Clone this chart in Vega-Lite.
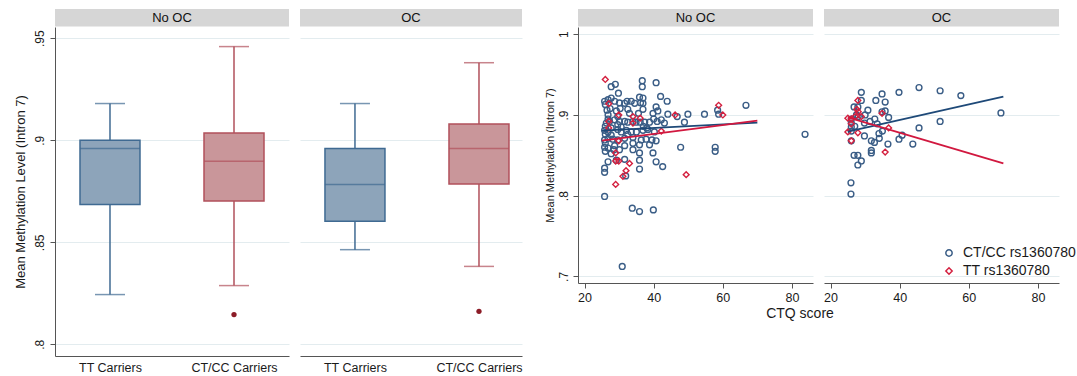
{
  "$schema": "https://vega.github.io/schema/vega-lite/v6.json",
  "background": "white",
  "padding": {"left": 14, "top": 9, "right": 2, "bottom": 0},
  "autosize": {"type": "pad"},
  "config": {
    "font": "Liberation Sans",
    "view": {"stroke": null},
    "axis": {"domainColor": "#555555", "tickColor": "#555555", "labelColor": "#1a1a1a", "titleColor": "#1a1a1a", "titleFontWeight": "normal", "gridColor": "#e3ecef", "labelFont": "Liberation Sans", "titleFont": "Liberation Sans"},
    "legend": {"labelFont": "Liberation Sans"}
  },
  "datasets": {
    "strips": [{"panel": "No OC"}, {"panel": "OC"}],
    "box": [
      {"panel": "No OC", "group": "TT Carriers", "lo": 0.8244, "q1": 0.8685, "med": 0.896, "q3": 0.9, "hi": 0.918},
      {"panel": "No OC", "group": "CT/CC Carriers", "lo": 0.8288, "q1": 0.8702, "med": 0.8897, "q3": 0.9036, "hi": 0.9459},
      {"panel": "OC", "group": "TT Carriers", "lo": 0.8464, "q1": 0.8603, "med": 0.8783, "q3": 0.896, "hi": 0.918},
      {"panel": "OC", "group": "CT/CC Carriers", "lo": 0.8382, "q1": 0.8786, "med": 0.896, "q3": 0.908, "hi": 0.938}
    ],
    "outl": [
      {"panel": "No OC", "group": "CT/CC Carriers", "value": 0.8146},
      {"panel": "OC", "group": "CT/CC Carriers", "value": 0.8162}
    ],
    "fit": [
      {"panel": "No OC", "geno": "CT/CC rs1360780", "ctq": 25, "meth": 0.8806},
      {"panel": "No OC", "geno": "CT/CC rs1360780", "ctq": 70, "meth": 0.8905},
      {"panel": "No OC", "geno": "TT rs1360780", "ctq": 25, "meth": 0.8682},
      {"panel": "No OC", "geno": "TT rs1360780", "ctq": 70, "meth": 0.893},
      {"panel": "OC", "geno": "CT/CC rs1360780", "ctq": 25, "meth": 0.8794},
      {"panel": "OC", "geno": "CT/CC rs1360780", "ctq": 70, "meth": 0.9227},
      {"panel": "OC", "geno": "TT rs1360780", "ctq": 25, "meth": 0.897},
      {"panel": "OC", "geno": "TT rs1360780", "ctq": 70, "meth": 0.84}
    ],
    "pts": [
      {"panel": "No OC", "geno": "CT/CC rs1360780", "ctq": 27.7, "meth": 0.935},
      {"panel": "No OC", "geno": "CT/CC rs1360780", "ctq": 28.9, "meth": 0.938},
      {"panel": "No OC", "geno": "CT/CC rs1360780", "ctq": 29.8, "meth": 0.927},
      {"panel": "No OC", "geno": "CT/CC rs1360780", "ctq": 36.7, "meth": 0.9425},
      {"panel": "No OC", "geno": "CT/CC rs1360780", "ctq": 36.7, "meth": 0.935},
      {"panel": "No OC", "geno": "CT/CC rs1360780", "ctq": 40.7, "meth": 0.94},
      {"panel": "No OC", "geno": "CT/CC rs1360780", "ctq": 42.0, "meth": 0.923},
      {"panel": "No OC", "geno": "CT/CC rs1360780", "ctq": 43.9, "meth": 0.917},
      {"panel": "No OC", "geno": "CT/CC rs1360780", "ctq": 25.8, "meth": 0.917},
      {"panel": "No OC", "geno": "CT/CC rs1360780", "ctq": 26.8, "meth": 0.919},
      {"panel": "No OC", "geno": "CT/CC rs1360780", "ctq": 27.7, "meth": 0.921},
      {"panel": "No OC", "geno": "CT/CC rs1360780", "ctq": 28.7, "meth": 0.917},
      {"panel": "No OC", "geno": "CT/CC rs1360780", "ctq": 30.1, "meth": 0.915},
      {"panel": "No OC", "geno": "CT/CC rs1360780", "ctq": 31.6, "meth": 0.9145},
      {"panel": "No OC", "geno": "CT/CC rs1360780", "ctq": 32.3, "meth": 0.917},
      {"panel": "No OC", "geno": "CT/CC rs1360780", "ctq": 33.5, "meth": 0.917},
      {"panel": "No OC", "geno": "CT/CC rs1360780", "ctq": 34.5, "meth": 0.9145},
      {"panel": "No OC", "geno": "CT/CC rs1360780", "ctq": 35.9, "meth": 0.922},
      {"panel": "No OC", "geno": "CT/CC rs1360780", "ctq": 36.9, "meth": 0.921},
      {"panel": "No OC", "geno": "CT/CC rs1360780", "ctq": 36.2, "meth": 0.915},
      {"panel": "No OC", "geno": "CT/CC rs1360780", "ctq": 36.9, "meth": 0.9145},
      {"panel": "No OC", "geno": "CT/CC rs1360780", "ctq": 26.5, "meth": 0.906},
      {"panel": "No OC", "geno": "CT/CC rs1360780", "ctq": 27.4, "meth": 0.908},
      {"panel": "No OC", "geno": "CT/CC rs1360780", "ctq": 29.2, "meth": 0.905},
      {"panel": "No OC", "geno": "CT/CC rs1360780", "ctq": 30.3, "meth": 0.908},
      {"panel": "No OC", "geno": "CT/CC rs1360780", "ctq": 32.5, "meth": 0.907},
      {"panel": "No OC", "geno": "CT/CC rs1360780", "ctq": 35.6, "meth": 0.902},
      {"panel": "No OC", "geno": "CT/CC rs1360780", "ctq": 36.9, "meth": 0.907},
      {"panel": "No OC", "geno": "CT/CC rs1360780", "ctq": 39.8, "meth": 0.902},
      {"panel": "No OC", "geno": "CT/CC rs1360780", "ctq": 40.7, "meth": 0.91},
      {"panel": "No OC", "geno": "CT/CC rs1360780", "ctq": 41.2, "meth": 0.905},
      {"panel": "No OC", "geno": "CT/CC rs1360780", "ctq": 44.1, "meth": 0.901},
      {"panel": "No OC", "geno": "CT/CC rs1360780", "ctq": 46.8, "meth": 0.898},
      {"panel": "No OC", "geno": "CT/CC rs1360780", "ctq": 49.9, "meth": 0.901},
      {"panel": "No OC", "geno": "CT/CC rs1360780", "ctq": 54.7, "meth": 0.901},
      {"panel": "No OC", "geno": "CT/CC rs1360780", "ctq": 58.5, "meth": 0.906},
      {"panel": "No OC", "geno": "CT/CC rs1360780", "ctq": 58.8, "meth": 0.901},
      {"panel": "No OC", "geno": "CT/CC rs1360780", "ctq": 66.7, "meth": 0.912},
      {"panel": "No OC", "geno": "CT/CC rs1360780", "ctq": 26.3, "meth": 0.89},
      {"panel": "No OC", "geno": "CT/CC rs1360780", "ctq": 27.2, "meth": 0.892},
      {"panel": "No OC", "geno": "CT/CC rs1360780", "ctq": 28.7, "meth": 0.894},
      {"panel": "No OC", "geno": "CT/CC rs1360780", "ctq": 30.1, "meth": 0.892},
      {"panel": "No OC", "geno": "CT/CC rs1360780", "ctq": 31.6, "meth": 0.892},
      {"panel": "No OC", "geno": "CT/CC rs1360780", "ctq": 32.5, "meth": 0.891},
      {"panel": "No OC", "geno": "CT/CC rs1360780", "ctq": 34.0, "meth": 0.892},
      {"panel": "No OC", "geno": "CT/CC rs1360780", "ctq": 34.9, "meth": 0.891},
      {"panel": "No OC", "geno": "CT/CC rs1360780", "ctq": 36.1, "meth": 0.891},
      {"panel": "No OC", "geno": "CT/CC rs1360780", "ctq": 37.4, "meth": 0.891},
      {"panel": "No OC", "geno": "CT/CC rs1360780", "ctq": 38.8, "meth": 0.891},
      {"panel": "No OC", "geno": "CT/CC rs1360780", "ctq": 40.0, "meth": 0.895},
      {"panel": "No OC", "geno": "CT/CC rs1360780", "ctq": 41.0, "meth": 0.892},
      {"panel": "No OC", "geno": "CT/CC rs1360780", "ctq": 42.2, "meth": 0.894},
      {"panel": "No OC", "geno": "CT/CC rs1360780", "ctq": 43.1, "meth": 0.89},
      {"panel": "No OC", "geno": "CT/CC rs1360780", "ctq": 48.9, "meth": 0.891},
      {"panel": "No OC", "geno": "CT/CC rs1360780", "ctq": 25.8, "meth": 0.881},
      {"panel": "No OC", "geno": "CT/CC rs1360780", "ctq": 26.8, "meth": 0.879},
      {"panel": "No OC", "geno": "CT/CC rs1360780", "ctq": 27.7, "meth": 0.884},
      {"panel": "No OC", "geno": "CT/CC rs1360780", "ctq": 29.6, "meth": 0.882},
      {"panel": "No OC", "geno": "CT/CC rs1360780", "ctq": 30.6, "meth": 0.879},
      {"panel": "No OC", "geno": "CT/CC rs1360780", "ctq": 32.1, "meth": 0.881},
      {"panel": "No OC", "geno": "CT/CC rs1360780", "ctq": 33.5, "meth": 0.879},
      {"panel": "No OC", "geno": "CT/CC rs1360780", "ctq": 35.0, "meth": 0.879},
      {"panel": "No OC", "geno": "CT/CC rs1360780", "ctq": 36.9, "meth": 0.881},
      {"panel": "No OC", "geno": "CT/CC rs1360780", "ctq": 38.3, "meth": 0.882},
      {"panel": "No OC", "geno": "CT/CC rs1360780", "ctq": 40.2, "meth": 0.879},
      {"panel": "No OC", "geno": "CT/CC rs1360780", "ctq": 25.8, "meth": 0.869},
      {"panel": "No OC", "geno": "CT/CC rs1360780", "ctq": 26.8, "meth": 0.871},
      {"panel": "No OC", "geno": "CT/CC rs1360780", "ctq": 28.2, "meth": 0.87},
      {"panel": "No OC", "geno": "CT/CC rs1360780", "ctq": 29.6, "meth": 0.869},
      {"panel": "No OC", "geno": "CT/CC rs1360780", "ctq": 31.6, "meth": 0.871},
      {"panel": "No OC", "geno": "CT/CC rs1360780", "ctq": 34.0, "meth": 0.872},
      {"panel": "No OC", "geno": "CT/CC rs1360780", "ctq": 36.4, "meth": 0.869},
      {"panel": "No OC", "geno": "CT/CC rs1360780", "ctq": 37.8, "meth": 0.87},
      {"panel": "No OC", "geno": "CT/CC rs1360780", "ctq": 39.5, "meth": 0.869},
      {"panel": "No OC", "geno": "CT/CC rs1360780", "ctq": 40.7, "meth": 0.868},
      {"panel": "No OC", "geno": "CT/CC rs1360780", "ctq": 35.9, "meth": 0.863},
      {"panel": "No OC", "geno": "CT/CC rs1360780", "ctq": 38.8, "meth": 0.863},
      {"panel": "No OC", "geno": "CT/CC rs1360780", "ctq": 25.8, "meth": 0.86},
      {"panel": "No OC", "geno": "CT/CC rs1360780", "ctq": 26.8, "meth": 0.859},
      {"panel": "No OC", "geno": "CT/CC rs1360780", "ctq": 28.5, "meth": 0.857},
      {"panel": "No OC", "geno": "CT/CC rs1360780", "ctq": 30.1, "meth": 0.857},
      {"panel": "No OC", "geno": "CT/CC rs1360780", "ctq": 34.0, "meth": 0.857},
      {"panel": "No OC", "geno": "CT/CC rs1360780", "ctq": 35.9, "meth": 0.853},
      {"panel": "No OC", "geno": "CT/CC rs1360780", "ctq": 39.8, "meth": 0.853},
      {"panel": "No OC", "geno": "CT/CC rs1360780", "ctq": 47.8, "meth": 0.86},
      {"panel": "No OC", "geno": "CT/CC rs1360780", "ctq": 57.8, "meth": 0.86},
      {"panel": "No OC", "geno": "CT/CC rs1360780", "ctq": 57.8, "meth": 0.855},
      {"panel": "No OC", "geno": "CT/CC rs1360780", "ctq": 26.8, "meth": 0.842},
      {"panel": "No OC", "geno": "CT/CC rs1360780", "ctq": 29.2, "meth": 0.844},
      {"panel": "No OC", "geno": "CT/CC rs1360780", "ctq": 31.6, "meth": 0.845},
      {"panel": "No OC", "geno": "CT/CC rs1360780", "ctq": 35.9, "meth": 0.844},
      {"panel": "No OC", "geno": "CT/CC rs1360780", "ctq": 40.7, "meth": 0.842},
      {"panel": "No OC", "geno": "CT/CC rs1360780", "ctq": 42.6, "meth": 0.836},
      {"panel": "No OC", "geno": "CT/CC rs1360780", "ctq": 35.9, "meth": 0.833},
      {"panel": "No OC", "geno": "CT/CC rs1360780", "ctq": 25.8, "meth": 0.834},
      {"panel": "No OC", "geno": "CT/CC rs1360780", "ctq": 25.8, "meth": 0.829},
      {"panel": "No OC", "geno": "CT/CC rs1360780", "ctq": 31.9, "meth": 0.8245},
      {"panel": "No OC", "geno": "CT/CC rs1360780", "ctq": 25.8, "meth": 0.799},
      {"panel": "No OC", "geno": "CT/CC rs1360780", "ctq": 33.8, "meth": 0.7845},
      {"panel": "No OC", "geno": "CT/CC rs1360780", "ctq": 35.9, "meth": 0.7803},
      {"panel": "No OC", "geno": "CT/CC rs1360780", "ctq": 39.9, "meth": 0.7824},
      {"panel": "No OC", "geno": "CT/CC rs1360780", "ctq": 30.9, "meth": 0.7123},
      {"panel": "No OC", "geno": "CT/CC rs1360780", "ctq": 83.8, "meth": 0.876},
      {"panel": "No OC", "geno": "CT/CC rs1360780", "ctq": 26.0, "meth": 0.913},
      {"panel": "No OC", "geno": "CT/CC rs1360780", "ctq": 26.0, "meth": 0.886},
      {"panel": "No OC", "geno": "CT/CC rs1360780", "ctq": 26.0, "meth": 0.876},
      {"panel": "No OC", "geno": "CT/CC rs1360780", "ctq": 26.0, "meth": 0.865},
      {"panel": "No OC", "geno": "CT/CC rs1360780", "ctq": 26.0, "meth": 0.855},
      {"panel": "No OC", "geno": "CT/CC rs1360780", "ctq": 26.8, "meth": 0.895},
      {"panel": "No OC", "geno": "CT/CC rs1360780", "ctq": 26.8, "meth": 0.9},
      {"panel": "No OC", "geno": "CT/CC rs1360780", "ctq": 27.7, "meth": 0.875},
      {"panel": "No OC", "geno": "CT/CC rs1360780", "ctq": 28.7, "meth": 0.862},
      {"panel": "No OC", "geno": "CT/CC rs1360780", "ctq": 27.7, "meth": 0.852},
      {"panel": "No OC", "geno": "CT/CC rs1360780", "ctq": 29.6, "meth": 0.898},
      {"panel": "No OC", "geno": "CT/CC rs1360780", "ctq": 29.6, "meth": 0.888},
      {"panel": "No OC", "geno": "CT/CC rs1360780", "ctq": 30.6, "meth": 0.885},
      {"panel": "No OC", "geno": "CT/CC rs1360780", "ctq": 31.6, "meth": 0.862},
      {"panel": "No OC", "geno": "CT/CC rs1360780", "ctq": 32.5, "meth": 0.876},
      {"panel": "No OC", "geno": "CT/CC rs1360780", "ctq": 33.0, "meth": 0.902},
      {"panel": "No OC", "geno": "CT/CC rs1360780", "ctq": 34.0, "meth": 0.865},
      {"panel": "No OC", "geno": "CT/CC rs1360780", "ctq": 37.0, "meth": 0.886},
      {"panel": "No OC", "geno": "CT/CC rs1360780", "ctq": 38.0, "meth": 0.884},
      {"panel": "No OC", "geno": "TT rs1360780", "ctq": 26.0, "meth": 0.944},
      {"panel": "No OC", "geno": "TT rs1360780", "ctq": 27.0, "meth": 0.914},
      {"panel": "No OC", "geno": "TT rs1360780", "ctq": 27.0, "meth": 0.892},
      {"panel": "No OC", "geno": "TT rs1360780", "ctq": 27.0, "meth": 0.884},
      {"panel": "No OC", "geno": "TT rs1360780", "ctq": 29.9, "meth": 0.9},
      {"panel": "No OC", "geno": "TT rs1360780", "ctq": 29.9, "meth": 0.868},
      {"panel": "No OC", "geno": "TT rs1360780", "ctq": 29.0, "meth": 0.853},
      {"panel": "No OC", "geno": "TT rs1360780", "ctq": 29.9, "meth": 0.843},
      {"panel": "No OC", "geno": "TT rs1360780", "ctq": 29.0, "meth": 0.843},
      {"panel": "No OC", "geno": "TT rs1360780", "ctq": 29.0, "meth": 0.814},
      {"panel": "No OC", "geno": "TT rs1360780", "ctq": 31.1, "meth": 0.824},
      {"panel": "No OC", "geno": "TT rs1360780", "ctq": 32.0, "meth": 0.831},
      {"panel": "No OC", "geno": "TT rs1360780", "ctq": 33.0, "meth": 0.84},
      {"panel": "No OC", "geno": "TT rs1360780", "ctq": 34.0, "meth": 0.898},
      {"panel": "No OC", "geno": "TT rs1360780", "ctq": 34.0, "meth": 0.89},
      {"panel": "No OC", "geno": "TT rs1360780", "ctq": 36.1, "meth": 0.896},
      {"panel": "No OC", "geno": "TT rs1360780", "ctq": 42.2, "meth": 0.88},
      {"panel": "No OC", "geno": "TT rs1360780", "ctq": 46.2, "meth": 0.9},
      {"panel": "No OC", "geno": "TT rs1360780", "ctq": 49.4, "meth": 0.826},
      {"panel": "No OC", "geno": "TT rs1360780", "ctq": 58.8, "meth": 0.912},
      {"panel": "No OC", "geno": "TT rs1360780", "ctq": 60.0, "meth": 0.9},
      {"panel": "OC", "geno": "CT/CC rs1360780", "ctq": 28.9, "meth": 0.928},
      {"panel": "OC", "geno": "CT/CC rs1360780", "ctq": 34.9, "meth": 0.926},
      {"panel": "OC", "geno": "CT/CC rs1360780", "ctq": 39.8, "meth": 0.928},
      {"panel": "OC", "geno": "CT/CC rs1360780", "ctq": 45.6, "meth": 0.934},
      {"panel": "OC", "geno": "CT/CC rs1360780", "ctq": 51.7, "meth": 0.93},
      {"panel": "OC", "geno": "CT/CC rs1360780", "ctq": 57.7, "meth": 0.924},
      {"panel": "OC", "geno": "CT/CC rs1360780", "ctq": 69.3, "meth": 0.9025},
      {"panel": "OC", "geno": "CT/CC rs1360780", "ctq": 51.7, "meth": 0.892},
      {"panel": "OC", "geno": "CT/CC rs1360780", "ctq": 45.6, "meth": 0.884},
      {"panel": "OC", "geno": "CT/CC rs1360780", "ctq": 43.8, "meth": 0.864},
      {"panel": "OC", "geno": "CT/CC rs1360780", "ctq": 39.8, "meth": 0.87},
      {"panel": "OC", "geno": "CT/CC rs1360780", "ctq": 40.7, "meth": 0.875},
      {"panel": "OC", "geno": "CT/CC rs1360780", "ctq": 36.6, "meth": 0.864},
      {"panel": "OC", "geno": "CT/CC rs1360780", "ctq": 35.8, "meth": 0.916},
      {"panel": "OC", "geno": "CT/CC rs1360780", "ctq": 35.8, "meth": 0.905},
      {"panel": "OC", "geno": "CT/CC rs1360780", "ctq": 34.9, "meth": 0.904},
      {"panel": "OC", "geno": "CT/CC rs1360780", "ctq": 33.1, "meth": 0.918},
      {"panel": "OC", "geno": "CT/CC rs1360780", "ctq": 30.8, "meth": 0.906},
      {"panel": "OC", "geno": "CT/CC rs1360780", "ctq": 28.9, "meth": 0.918},
      {"panel": "OC", "geno": "CT/CC rs1360780", "ctq": 27.9, "meth": 0.91},
      {"panel": "OC", "geno": "CT/CC rs1360780", "ctq": 26.8, "meth": 0.91},
      {"panel": "OC", "geno": "CT/CC rs1360780", "ctq": 32.8, "meth": 0.895},
      {"panel": "OC", "geno": "CT/CC rs1360780", "ctq": 31.4, "meth": 0.892},
      {"panel": "OC", "geno": "CT/CC rs1360780", "ctq": 29.8, "meth": 0.89},
      {"panel": "OC", "geno": "CT/CC rs1360780", "ctq": 33.5, "meth": 0.889},
      {"panel": "OC", "geno": "CT/CC rs1360780", "ctq": 29.8, "meth": 0.874},
      {"panel": "OC", "geno": "CT/CC rs1360780", "ctq": 31.8, "meth": 0.868},
      {"panel": "OC", "geno": "CT/CC rs1360780", "ctq": 32.7, "meth": 0.866},
      {"panel": "OC", "geno": "CT/CC rs1360780", "ctq": 34.1, "meth": 0.871},
      {"panel": "OC", "geno": "CT/CC rs1360780", "ctq": 34.0, "meth": 0.877},
      {"panel": "OC", "geno": "CT/CC rs1360780", "ctq": 31.8, "meth": 0.853},
      {"panel": "OC", "geno": "CT/CC rs1360780", "ctq": 31.8, "meth": 0.856},
      {"panel": "OC", "geno": "CT/CC rs1360780", "ctq": 26.8, "meth": 0.85},
      {"panel": "OC", "geno": "CT/CC rs1360780", "ctq": 27.9, "meth": 0.85},
      {"panel": "OC", "geno": "CT/CC rs1360780", "ctq": 28.9, "meth": 0.843},
      {"panel": "OC", "geno": "CT/CC rs1360780", "ctq": 27.9, "meth": 0.838},
      {"panel": "OC", "geno": "CT/CC rs1360780", "ctq": 25.9, "meth": 0.816},
      {"panel": "OC", "geno": "CT/CC rs1360780", "ctq": 25.9, "meth": 0.802},
      {"panel": "OC", "geno": "CT/CC rs1360780", "ctq": 26.0, "meth": 0.88},
      {"panel": "OC", "geno": "CT/CC rs1360780", "ctq": 26.0, "meth": 0.885},
      {"panel": "OC", "geno": "CT/CC rs1360780", "ctq": 26.0, "meth": 0.89},
      {"panel": "OC", "geno": "CT/CC rs1360780", "ctq": 26.0, "meth": 0.895},
      {"panel": "OC", "geno": "CT/CC rs1360780", "ctq": 27.0, "meth": 0.886},
      {"panel": "OC", "geno": "CT/CC rs1360780", "ctq": 27.5, "meth": 0.9},
      {"panel": "OC", "geno": "CT/CC rs1360780", "ctq": 28.0, "meth": 0.898},
      {"panel": "OC", "geno": "CT/CC rs1360780", "ctq": 30.0, "meth": 0.9},
      {"panel": "OC", "geno": "CT/CC rs1360780", "ctq": 26.0, "meth": 0.868},
      {"panel": "OC", "geno": "CT/CC rs1360780", "ctq": 36.8, "meth": 0.897},
      {"panel": "OC", "geno": "CT/CC rs1360780", "ctq": 35.0, "meth": 0.88},
      {"panel": "OC", "geno": "TT rs1360780", "ctq": 27.9, "meth": 0.918},
      {"panel": "OC", "geno": "TT rs1360780", "ctq": 27.6, "meth": 0.907},
      {"panel": "OC", "geno": "TT rs1360780", "ctq": 28.0, "meth": 0.904},
      {"panel": "OC", "geno": "TT rs1360780", "ctq": 27.1, "meth": 0.898},
      {"panel": "OC", "geno": "TT rs1360780", "ctq": 26.0, "meth": 0.895},
      {"panel": "OC", "geno": "TT rs1360780", "ctq": 28.9, "meth": 0.898},
      {"panel": "OC", "geno": "TT rs1360780", "ctq": 26.0, "meth": 0.889},
      {"panel": "OC", "geno": "TT rs1360780", "ctq": 25.0, "meth": 0.879},
      {"panel": "OC", "geno": "TT rs1360780", "ctq": 27.9, "meth": 0.878},
      {"panel": "OC", "geno": "TT rs1360780", "ctq": 26.0, "meth": 0.868},
      {"panel": "OC", "geno": "TT rs1360780", "ctq": 34.9, "meth": 0.902},
      {"panel": "OC", "geno": "TT rs1360780", "ctq": 36.8, "meth": 0.884},
      {"panel": "OC", "geno": "TT rs1360780", "ctq": 35.8, "meth": 0.854},
      {"panel": "OC", "geno": "TT rs1360780", "ctq": 25.0, "meth": 0.896}
    ]
  },
  "spacing": 21,
  "resolve": {"scale": {"color": "independent", "shape": "independent", "fill": "independent", "stroke": "independent"}, "legend": {"color": "independent", "shape": "independent", "fill": "independent", "stroke": "independent"}},
  "hconcat": [
    {
      "spacing": 11,
      "resolve": {"scale": {"color": "independent", "shape": "independent", "fill": "independent", "stroke": "independent"}, "legend": {"color": "independent", "shape": "independent", "fill": "independent", "stroke": "independent"}},
      "hconcat": [
        {
          "spacing": 0,
          "bounds": "flush",
          "resolve": {"scale": {"color": "independent", "shape": "independent", "fill": "independent", "stroke": "independent"}, "legend": {"color": "independent", "shape": "independent", "fill": "independent", "stroke": "independent"}},
          "vconcat": [
            {
              "width": 234, "height": 17.5,
              "view": {"fill": "#d6d6d6", "stroke": null},
              "data": {"name": "strips"},
              "transform": [{"filter": "datum.panel === 'No OC'"}],
              "mark": {"type": "text", "fontSize": 13, "color": "#111111"},
              "encoding": {"text": {"field": "panel", "type": "nominal"}}
            },
            {
              "width": 234, "height": 329,
              "encoding": {
                "x": {"field": "group", "type": "nominal", "sort": ["TT Carriers", "CT/CC Carriers"], "scale": {"type": "point", "padding": 0.4435, "align": 0.5}, "axis": {"title": null, "ticks": false, "labelAngle": 0, "labelPadding": 5, "labelFontSize": 12.5}}
              },
              "layer": [
                {
                  "data": {"name": "box"}, "transform": [{"filter": "datum.panel === 'No OC'"}],
                  "mark": {"type": "rule", "strokeWidth": 1.5},
                  "encoding": {
                    "y": {"field": "lo", "type": "quantitative", "scale": {"domain": [0.7943, 0.9555], "nice": false, "zero": false}, "axis": {"title": "Mean Methylation Level (Intron 7)", "titleFontSize": 13, "titlePadding": 6, "values": [0.8, 0.85, 0.9, 0.95], "labelExpr": "datum.value >= 1 ? '1' : slice(format(datum.value, '~g'), 1)", "labelAngle": -90, "labelAlign": "center", "labelBaseline": "bottom", "labelFontSize": 12, "tickSize": 5, "labelPadding": 4, "grid": true}},
                    "y2": {"field": "hi"},
                    "color": {"field": "group", "type": "nominal", "scale": {"domain": ["TT Carriers", "CT/CC Carriers"], "range": ["#3f6a92", "#b1505b"]}, "legend": null}
                  }
                },
                {
                  "data": {"name": "box"}, "transform": [{"filter": "datum.panel === 'No OC'"}],
                  "mark": {"type": "bar", "size": 60, "strokeWidth": 1.5},
                  "encoding": {
                    "y": {"field": "q1", "type": "quantitative", "title": "Mean Methylation Level (Intron 7)"},
                    "y2": {"field": "q3"},
                    "fill": {"field": "group", "type": "nominal", "scale": {"domain": ["TT Carriers", "CT/CC Carriers"], "range": ["#8da4ba", "#c9969a"]}, "legend": null},
                    "stroke": {"field": "group", "type": "nominal", "scale": {"domain": ["TT Carriers", "CT/CC Carriers"], "range": ["#3f6a92", "#b1505b"]}, "legend": null}
                  }
                },
                {
                  "data": {"name": "box"}, "transform": [{"filter": "datum.panel === 'No OC'"}],
                  "mark": {"type": "tick", "size": 60, "thickness": 1.6},
                  "encoding": {
                    "y": {"field": "med", "type": "quantitative", "title": "Mean Methylation Level (Intron 7)"},
                    "color": {"field": "group", "type": "nominal", "legend": null}
                  }
                },
                {
                  "data": {"name": "box"}, "transform": [{"filter": "datum.panel === 'No OC'"}],
                  "mark": {"type": "tick", "size": 30, "thickness": 1.5},
                  "encoding": {
                    "y": {"field": "lo", "type": "quantitative", "title": "Mean Methylation Level (Intron 7)"},
                    "color": {"field": "group", "type": "nominal", "legend": null}
                  }
                },
                {
                  "data": {"name": "box"}, "transform": [{"filter": "datum.panel === 'No OC'"}],
                  "mark": {"type": "tick", "size": 30, "thickness": 1.5},
                  "encoding": {
                    "y": {"field": "hi", "type": "quantitative", "title": "Mean Methylation Level (Intron 7)"},
                    "color": {"field": "group", "type": "nominal", "legend": null}
                  }
                },
                {
                  "data": {"name": "outl"}, "transform": [{"filter": "datum.panel === 'No OC'"}],
                  "mark": {"type": "point", "filled": true, "size": 28, "color": "#8c1c27", "opacity": 1},
                  "encoding": {
                    "y": {"field": "value", "type": "quantitative", "title": "Mean Methylation Level (Intron 7)"}
                  }
                }
              ]
            }
          ]
        },
        {
          "spacing": 0,
          "bounds": "flush",
          "resolve": {"scale": {"color": "independent", "shape": "independent", "fill": "independent", "stroke": "independent"}, "legend": {"color": "independent", "shape": "independent", "fill": "independent", "stroke": "independent"}},
          "vconcat": [
            {
              "width": 222, "height": 17.5,
              "view": {"fill": "#d6d6d6", "stroke": null},
              "data": {"name": "strips"},
              "transform": [{"filter": "datum.panel === 'OC'"}],
              "mark": {"type": "text", "fontSize": 13, "color": "#111111"},
              "encoding": {"text": {"field": "panel", "type": "nominal"}}
            },
            {
              "width": 222, "height": 329,
              "encoding": {
                "x": {"field": "group", "type": "nominal", "sort": ["TT Carriers", "CT/CC Carriers"], "scale": {"type": "point", "padding": 0.395, "align": 0.561}, "axis": {"title": null, "ticks": false, "labelAngle": 0, "labelPadding": 5, "labelFontSize": 12.5}}
              },
              "layer": [
                {
                  "data": {"name": "box"}, "transform": [{"filter": "datum.panel === 'OC'"}],
                  "mark": {"type": "rule", "strokeWidth": 1.5},
                  "encoding": {
                    "y": {"field": "lo", "type": "quantitative", "scale": {"domain": [0.7943, 0.9555], "nice": false, "zero": false}, "axis": {"title": null, "orient": "left", "values": [0.8, 0.85, 0.9, 0.95], "labels": false, "ticks": false, "domain": false, "grid": true}},
                    "y2": {"field": "hi"},
                    "color": {"field": "group", "type": "nominal", "scale": {"domain": ["TT Carriers", "CT/CC Carriers"], "range": ["#3f6a92", "#b1505b"]}, "legend": null}
                  }
                },
                {
                  "data": {"name": "box"}, "transform": [{"filter": "datum.panel === 'OC'"}],
                  "mark": {"type": "bar", "size": 60, "strokeWidth": 1.5},
                  "encoding": {
                    "y": {"field": "q1", "type": "quantitative", "title": null},
                    "y2": {"field": "q3"},
                    "fill": {"field": "group", "type": "nominal", "scale": {"domain": ["TT Carriers", "CT/CC Carriers"], "range": ["#8da4ba", "#c9969a"]}, "legend": null},
                    "stroke": {"field": "group", "type": "nominal", "scale": {"domain": ["TT Carriers", "CT/CC Carriers"], "range": ["#3f6a92", "#b1505b"]}, "legend": null}
                  }
                },
                {
                  "data": {"name": "box"}, "transform": [{"filter": "datum.panel === 'OC'"}],
                  "mark": {"type": "tick", "size": 60, "thickness": 1.6},
                  "encoding": {
                    "y": {"field": "med", "type": "quantitative", "title": null},
                    "color": {"field": "group", "type": "nominal", "legend": null}
                  }
                },
                {
                  "data": {"name": "box"}, "transform": [{"filter": "datum.panel === 'OC'"}],
                  "mark": {"type": "tick", "size": 30, "thickness": 1.5},
                  "encoding": {
                    "y": {"field": "lo", "type": "quantitative", "title": null},
                    "color": {"field": "group", "type": "nominal", "legend": null}
                  }
                },
                {
                  "data": {"name": "box"}, "transform": [{"filter": "datum.panel === 'OC'"}],
                  "mark": {"type": "tick", "size": 30, "thickness": 1.5},
                  "encoding": {
                    "y": {"field": "hi", "type": "quantitative", "title": null},
                    "color": {"field": "group", "type": "nominal", "legend": null}
                  }
                },
                {
                  "data": {"name": "outl"}, "transform": [{"filter": "datum.panel === 'OC'"}],
                  "mark": {"type": "point", "filled": true, "size": 28, "color": "#8c1c27", "opacity": 1},
                  "encoding": {
                    "y": {"field": "value", "type": "quantitative", "title": null}
                  }
                }
              ]
            }
          ]
        }
      ]
    },
    {
      "spacing": 10,
      "title": {"text": "CTQ score", "orient": "bottom", "anchor": "middle", "fontSize": 14, "fontWeight": "normal", "color": "#1a1a1a", "font": "Liberation Sans", "offset": 3, "dx": -10},
      "resolve": {"scale": {"color": "independent", "shape": "independent", "fill": "independent", "stroke": "independent"}, "legend": {"color": "independent", "shape": "independent", "fill": "independent", "stroke": "independent"}},
      "hconcat": [
        {
          "spacing": 0,
          "bounds": "flush",
          "resolve": {"scale": {"color": "independent", "shape": "independent", "fill": "independent", "stroke": "independent"}, "legend": {"color": "independent", "shape": "independent", "fill": "independent", "stroke": "independent"}},
          "vconcat": [
            {
              "width": 235, "height": 17.5,
              "view": {"fill": "#d6d6d6", "stroke": null},
              "data": {"name": "strips"},
              "transform": [{"filter": "datum.panel === 'No OC'"}],
              "mark": {"type": "text", "fontSize": 13, "color": "#111111"},
              "encoding": {"text": {"field": "panel", "type": "nominal"}}
            },
            {
              "width": 235, "height": 256,
              "encoding": {
                "x": {"field": "ctq", "type": "quantitative", "scale": {"domain": [18.1, 86.1], "nice": false, "zero": false}, "axis": {"values": [20, 40, 60, 80], "title": null, "labelFontSize": 12.5, "tickSize": 5, "labelPadding": 3, "grid": false}},
                "y": {"field": "meth", "type": "quantitative", "scale": {"domain": [0.6918, 1.009], "nice": false, "zero": false}, "axis": {"values": [0.7, 0.8, 0.9, 1], "labelExpr": "datum.value >= 1 ? '1' : slice(format(datum.value, '~g'), 1)", "title": "Mean Methylation (Intron 7)", "titleFontSize": 11, "titlePadding": 2, "labelAngle": -90, "labelAlign": "center", "labelBaseline": "bottom", "labelFontSize": 12, "tickSize": 5, "labelPadding": 3, "grid": true}}
              },
              "layer": [
                {
                  "data": {"name": "pts"}, "transform": [{"filter": "datum.panel === 'No OC'"}],
                  "mark": {"type": "point", "filled": false, "strokeWidth": 1.4, "size": 34, "opacity": 1},
                  "encoding": {
                    "color": {"field": "geno", "type": "nominal", "scale": {"domain": ["CT/CC rs1360780", "TT rs1360780"], "range": ["#3a5d86", "#d4203f"]}, "legend": null},
                    "shape": {"field": "geno", "type": "nominal", "scale": {"domain": ["CT/CC rs1360780", "TT rs1360780"], "range": ["circle", "diamond"]}, "legend": null}
                  }
                },
                {
                  "data": {"name": "fit"}, "transform": [{"filter": "datum.panel === 'No OC'"}],
                  "mark": {"type": "line", "strokeWidth": 1.8},
                  "encoding": {
                    "stroke": {"field": "geno", "type": "nominal", "scale": {"domain": ["CT/CC rs1360780", "TT rs1360780"], "range": ["#1e4978", "#d1183f"]}, "legend": null}
                  }
                }
              ]
            }
          ]
        },
        {
          "spacing": 0,
          "bounds": "flush",
          "resolve": {"scale": {"color": "independent", "shape": "independent", "fill": "independent", "stroke": "independent"}, "legend": {"color": "independent", "shape": "independent", "fill": "independent", "stroke": "independent"}},
          "vconcat": [
            {
              "width": 235, "height": 17.5,
              "view": {"fill": "#d6d6d6", "stroke": null},
              "data": {"name": "strips"},
              "transform": [{"filter": "datum.panel === 'OC'"}],
              "mark": {"type": "text", "fontSize": 13, "color": "#111111"},
              "encoding": {"text": {"field": "panel", "type": "nominal"}}
            },
            {
              "width": 235, "height": 256,
              "encoding": {
                "x": {"field": "ctq", "type": "quantitative", "scale": {"domain": [18.1, 86.1], "nice": false, "zero": false}, "axis": {"values": [20, 40, 60, 80], "title": null, "labelFontSize": 12.5, "tickSize": 5, "labelPadding": 3, "grid": false}},
                "y": {"field": "meth", "type": "quantitative", "scale": {"domain": [0.6918, 1.009], "nice": false, "zero": false}, "axis": {"values": [0.7, 0.8, 0.9, 1], "title": null, "labels": false, "ticks": false, "domain": false, "grid": true}}
              },
              "layer": [
                {
                  "data": {"name": "pts"}, "transform": [{"filter": "datum.panel === 'OC'"}],
                  "mark": {"type": "point", "filled": false, "strokeWidth": 1.4, "size": 34, "opacity": 1},
                  "encoding": {
                    "color": {"field": "geno", "type": "nominal", "scale": {"domain": ["CT/CC rs1360780", "TT rs1360780"], "range": ["#3a5d86", "#d4203f"]}, "legend": {"title": null, "orient": "none", "legendX": 118, "legendY": 219, "padding": 0, "labelFontSize": 14, "labelColor": "#1a1a1a", "symbolSize": 40, "symbolStrokeWidth": 1.5, "rowPadding": 4, "labelOffset": 7}},
                    "shape": {"field": "geno", "type": "nominal", "scale": {"domain": ["CT/CC rs1360780", "TT rs1360780"], "range": ["circle", "diamond"]}, "legend": {"title": null, "orient": "none", "legendX": 118, "legendY": 219, "padding": 0, "labelFontSize": 14, "labelColor": "#1a1a1a", "symbolSize": 40, "symbolStrokeWidth": 1.5, "rowPadding": 4, "labelOffset": 7}}
                  }
                },
                {
                  "data": {"name": "fit"}, "transform": [{"filter": "datum.panel === 'OC'"}],
                  "mark": {"type": "line", "strokeWidth": 1.8},
                  "encoding": {
                    "stroke": {"field": "geno", "type": "nominal", "scale": {"domain": ["CT/CC rs1360780", "TT rs1360780"], "range": ["#1e4978", "#d1183f"]}, "legend": null}
                  }
                }
              ]
            }
          ]
        }
      ]
    }
  ]
}
